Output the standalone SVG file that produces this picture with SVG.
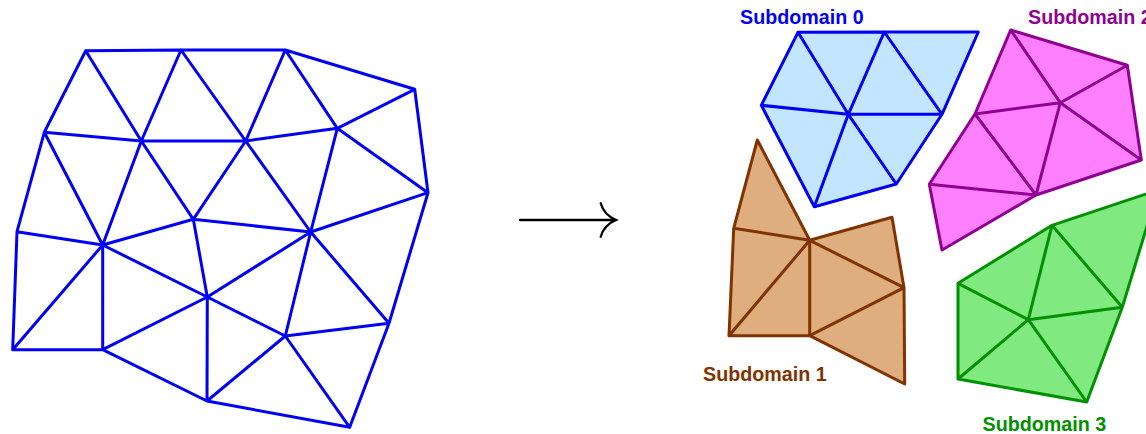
<svg xmlns="http://www.w3.org/2000/svg" width="1146" height="434" viewBox="0 0 1146 434">
<style>
.m{fill:none;stroke-width:3;stroke-linecap:round;stroke-linejoin:round}
.l{font-family:"Liberation Sans",Arial,sans-serif;font-weight:bold;font-size:19.7px}
.b{stroke:#0000f4}.p{stroke:#900090}.r{stroke:#803300}.g{stroke:#009000}
</style>
<rect width="1146" height="434" fill="#fff"/>
<g id="mesh">
<path class="m b" d="M85.7 50.7L181 50L285.3 50L414.7 89.3L428 192.7L389 323.3L349.7 427.3L207 401L102.7 349.7L12.7 349.7L17 231.700L44.300 132.300Z
M85.700 50.700L141.300 141L181 50L245.700 141L285.300 50L337.300 128.300L414.700 89.300
M44.300 132.300L141.300 141L245.700 141L337.300 128.300L428 192.700L310.700 232L337.300 128.300
M44.300 132.300L102.700 245L141.300 141L193.300 219.300L245.700 141L310.700 232L193.300 219.300L102.700 245
M17 231.700L102.700 245L12.700 349.700M102.700 245L102.700 349.700L207.300 297L102.700 245
M193.300 219.300L207.300 297L310.700 232L285.300 336L389 323.300L310.700 232
M207.300 297L285.300 336L207 401L207.300 297M285.300 336L349.700 427.300"/>
</g>
<g id="connectors">
<path d="M520 220H616M600.700 203.300Q604 215 616 220Q604 225 600.700 236.700" fill="none" stroke="#000" stroke-width="2.300" stroke-linecap="round"/>
</g>
<g id="subdomain0">
<path fill="#c2e6ff" d="M798 32.300L884.300 32L978.300 32L942 114.300L896.300 184L814.300 206.700L761.300 105.300Z"/>
<path class="m b" d="M798 32.300L884.300 32L978.300 32L942 114.300L896.300 184L814.300 206.700L761.300 105.300Z
M798 32.300L848.300 114.300L884.300 32L942 114.300L848.300 114.300L761.300 105.300M848.300 114.300L814.300 206.700M848.300 114.300L896.300 184"/>
<text class="l" x="740" y="23.500" fill="#0000f4">Subdomain 0</text>
</g>
<g id="subdomain1">
<path fill="#deae7e" d="M757.300 140L809.700 240.300L892 217.300L904 287.700L904.700 384L809.700 335.700L729 335.700L733.700 228.300Z"/>
<path class="m r" d="M757.300 140L809.700 240.300L892 217.300L904 287.700L904.700 384L809.700 335.700L729 335.700L733.700 228.300Z
M733.700 228.300L809.700 240.300L729 335.700M809.700 240.300L809.700 335.700L904 287.700L809.700 240.300"/>
<text class="l" x="703" y="380.500" fill="#803300">Subdomain 1</text>
</g>
<g id="subdomain2">
<path fill="#ff80ff" d="M1010.700 30L1127.300 65.300L1141.300 160L1036 195L942 250L929.300 184.300L975 114Z"/>
<path class="m p" d="M1010.700 30L1127.300 65.300L1141.300 160L1036 195L942 250L929.300 184.300L975 114Z
M1010.700 30L1060.300 102.700L1127.300 65.300M1060.300 102.700L975 114L1036 195L929.300 184.300M1060.300 102.700L1141.300 160M1060.300 102.700L1036 195"/>
<text class="l" x="1028" y="23.500" fill="#900090">Subdomain 2</text>
</g>
<g id="subdomain3">
<path fill="#80e980" d="M1052 225.300L1158 190L1122.300 307.300L1086.700 402L958 379L958 283.300Z"/>
<path class="m g" d="M1052 225.300L1158 190L1122.300 307.300L1086.700 402L958 379L958 283.300Z
M1052 225.300L1028.300 319.700L1122.300 307.300L1052 225.300M958 283.300L1028.300 319.700L958 379M1028.300 319.700L1086.700 402"/>
<text class="l" x="982.500" y="431" fill="#009000">Subdomain 3</text>
</g>
</svg>
